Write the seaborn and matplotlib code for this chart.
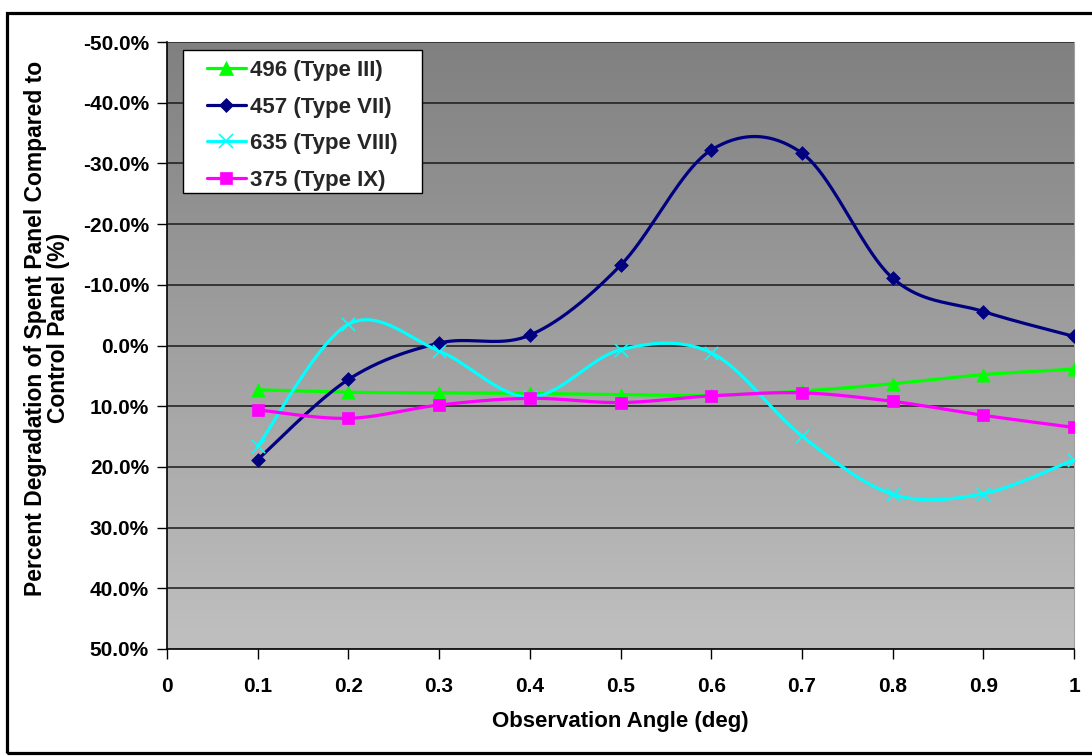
import numpy as np
import pandas as pd
import matplotlib
matplotlib.use("Agg")
import matplotlib.pyplot as plt
from matplotlib.lines import Line2D
from matplotlib.patches import Rectangle
import seaborn as sns

# ---------------- data ----------------
angles = [0.1, 0.2, 0.3, 0.4, 0.5, 0.6, 0.7, 0.8, 0.9, 1.0]
s496 = [7.3, 7.7, 7.8, 7.9, 8.1, 8.2, 7.5, 6.3, 4.8, 3.9]
s457 = [18.8, 5.6, -0.4, -1.7, -13.2, -32.2, -31.7, -11.1, -5.6, -1.5]
s635 = [16.6, -3.5, 0.9, 8.5, 0.7, 1.2, 14.9, 24.5, 24.4, 18.8]
s375 = [10.6, 12.0, 9.8, 8.7, 9.4, 8.3, 7.8, 9.2, 11.5, 13.5]
series_names = ["496 (Type III)", "457 (Type VII)", "635 (Type VIII)", "375 (Type IX)"]
x_ticks = [0, 0.1, 0.2, 0.3, 0.4, 0.5, 0.6, 0.7, 0.8, 0.9, 1.0]
x_tick_labels = ["0", "0.1", "0.2", "0.3", "0.4", "0.5", "0.6", "0.7", "0.8", "0.9", "1"]
y_ticks = [-50, -40, -30, -20, -10, 0, 10, 20, 30, 40, 50]

colors = ["#00FF00", "#000080", "#00FFFF", "#FF00FF"]
markers = ["^", "D", "x", "s"]
msizes = [9.5, 7, 9.5, 8.5]

sns.set_theme(style="white")
plt.rcParams["font.family"] = ["Liberation Sans", "DejaVu Sans"]
plt.rcParams["font.weight"] = "bold"

W, H = 1092, 756
fig = plt.figure(figsize=(W / 100, H / 100), dpi=100)
L, R, T, B = 167, 1074, 42, 649
ax = fig.add_axes([L / W, 1 - B / H, (R - L) / W, (B - T) / H])


def ax_xy(px, py):
    """pixel position (from top-left) -> axes fraction"""
    return (px - L) / (R - L), (B - py) / (B - T)


# gradient background (dark at top, light at bottom)
grad = np.linspace(0, 1, 256).reshape(-1, 1)
ax.imshow(grad, extent=[0, 1, 0, 1], transform=ax.transAxes, aspect="auto",
          cmap=matplotlib.colors.LinearSegmentedColormap.from_list("g", ["#C0C0C0", "#808080"]),
          origin="lower", zorder=0)


def smooth(xs, ys, n=40):
    """Excel-like smoothed line: cubic Bezier with Catmull-Rom tangents."""
    P = np.column_stack([xs, ys]).astype(float)
    out = []
    m = len(P)
    for i in range(m - 1):
        p0 = P[i - 1] if i > 0 else P[i]
        p1 = P[i]
        p2 = P[i + 1]
        p3 = P[i + 2] if i + 2 < m else P[i + 1]
        c1 = p1 + (p2 - p0) / 6.0
        c2 = p2 - (p3 - p1) / 6.0
        t = np.linspace(0, 1, n)[:, None]
        seg = ((1 - t) ** 3) * p1 + 3 * ((1 - t) ** 2) * t * c1 + 3 * (1 - t) * t ** 2 * c2 + t ** 3 * p2
        out.append(seg if i == 0 else seg[1:])
    s = np.vstack(out)
    return s[:, 0], s[:, 1]


all_series = [s496, s457, s635, s375]
for vals, name, c, mk, ms in zip(all_series, series_names, colors, markers, msizes):
    sx, sy = smooth(angles, vals)
    sns.lineplot(x=sx, y=sy, ax=ax, color=c, lw=2.3, sort=False, estimator=None, zorder=3)
    df = pd.DataFrame({"x": angles, "y": vals})
    if mk == "x":
        sns.scatterplot(data=df, x="x", y="y", ax=ax, marker="x", color=c, s=ms ** 2,
                        linewidth=1.2, zorder=4, legend=False)
    else:
        sns.scatterplot(data=df, x="x", y="y", ax=ax, marker=mk, color=c, s=ms ** 2,
                        edgecolor=c, linewidth=0.5, zorder=4, legend=False)

ax.set_xlim(0, 1)
ax.set_ylim(50, -50)
ax.set_xticks(x_ticks)
ax.set_xticklabels(x_tick_labels)
ax.set_yticks(y_ticks)
ax.set_yticklabels([f"{v:.1f}%" for v in y_ticks])
ax.yaxis.grid(True, color="#1a1a1a", lw=1.1, zorder=1)
ax.xaxis.grid(False)
ax.set_axisbelow(False)
for gl in ax.get_ygridlines():
    gl.set_zorder(1)

ax.tick_params(axis="both", which="major", direction="out", length=7, width=1,
               color="black", labelsize=15, labelcolor="black")
ax.tick_params(axis="x", pad=13, bottom=True)
ax.tick_params(axis="y", pad=6, left=True)
for lab in ax.get_xticklabels() + ax.get_yticklabels():
    lab.set_fontweight("bold")

for side in ["left", "bottom"]:
    ax.spines[side].set_color("black")
    ax.spines[side].set_linewidth(1.2)
for side in ["top", "right"]:
    ax.spines[side].set_color("#a0a0a0")
    ax.spines[side].set_linewidth(0.8)

ax.set_xlabel("")
ax.set_ylabel("")
fig.text(620 / W, 1 - 721 / H, "Observation Angle (deg)", ha="center", va="center",
         fontsize=16, fontweight="bold", color="black")
fig.text(47 / W, 1 - 328 / H, "Percent Degradation of Spent Panel Compared to\nControl Panel (%)",
         ha="center", va="center", rotation=90, fontsize=16.5, fontweight="bold",
         color="black", multialignment="center", linespacing=1.05)

# legend box (white, black border)
x0, y0 = ax_xy(183, 193)
x1, y1 = ax_xy(422, 50)
ax.add_patch(Rectangle((x0, y0), x1 - x0, y1 - y0, transform=ax.transAxes,
                       facecolor="white", edgecolor="black", lw=1.0, zorder=9))

handles = [Line2D([0], [0], color=c, lw=2.3, marker=mk, markersize=ms,
                  markeredgecolor=c, markeredgewidth=1.2 if mk == "x" else 0.5)
           for c, mk, ms in zip(colors, markers, msizes)]
leg = ax.legend(handles, series_names, loc="upper left",
                bbox_to_anchor=ax_xy(207, 60),
                borderaxespad=0, frameon=False, prop={"weight": "bold", "size": 16},
                handlelength=1.75, handletextpad=0.2, labelspacing=0.7, borderpad=0)
leg.set_zorder(10)

# outer chart border
fig.patches.append(Rectangle((7 / W, 1 - 753 / H), (1100 - 7) / W, (753 - 13) / H,
                             transform=fig.transFigure, fill=False, edgecolor="black",
                             lw=2.3, zorder=20))

fig.savefig("out.png", dpi=100)
